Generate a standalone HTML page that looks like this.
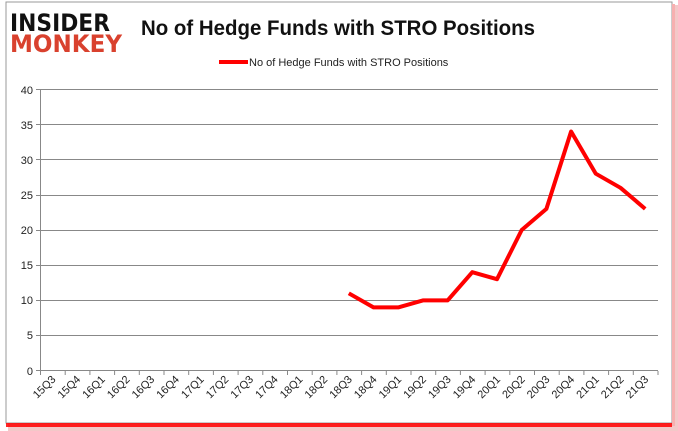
<!DOCTYPE html>
<html><head><style>
body{margin:0;background:#fff;}
svg{display:block;}
</style></head><body>
<svg width="678" height="431" xmlns="http://www.w3.org/2000/svg" font-family="Liberation Sans, sans-serif">
<rect x="8" y="5" width="670" height="426" fill="#f3c8c8"/>
<rect x="6" y="2" width="666" height="421" fill="#fff" stroke="#999" stroke-width="1"/>
<rect x="6" y="423" width="666" height="4" fill="#f00" opacity="0.85"/>
<rect x="672" y="4" width="3" height="422" fill="#f7b0b0"/>
<text x="10" y="31" font-size="24" font-weight="900" fill="#111" textLength="100" lengthAdjust="spacingAndGlyphs" font-family="DejaVu Sans, sans-serif">INSIDER</text>
<text x="10" y="52" font-size="24" font-weight="900" fill="#d9412e" textLength="112" lengthAdjust="spacingAndGlyphs" font-family="DejaVu Sans, sans-serif">MONKEY</text>
<text x="141" y="35" font-size="21" font-weight="bold" fill="#111" textLength="394" lengthAdjust="spacingAndGlyphs">No of Hedge Funds with STRO Positions</text>
<line x1="219" y1="62" x2="248" y2="62" stroke="#f00" stroke-width="4"/>
<text x="249" y="66" font-size="11" fill="#222">No of Hedge Funds with STRO Positions</text>
<g stroke="#888" stroke-width="1">
<line x1="40" y1="89.5" x2="658" y2="89.5"/>
<line x1="40" y1="124.5" x2="658" y2="124.5"/>
<line x1="40" y1="159.5" x2="658" y2="159.5"/>
<line x1="40" y1="195.5" x2="658" y2="195.5"/>
<line x1="40" y1="230.5" x2="658" y2="230.5"/>
<line x1="40" y1="265.5" x2="658" y2="265.5"/>
<line x1="40" y1="300.5" x2="658" y2="300.5"/>
<line x1="40" y1="335.5" x2="658" y2="335.5"/>
<line x1="40" y1="370.5" x2="658" y2="370.5"/>
<line x1="40.5" y1="89" x2="40.5" y2="371"/>
<line x1="36" y1="89.5" x2="40" y2="89.5"/><line x1="36" y1="124.5" x2="40" y2="124.5"/><line x1="36" y1="159.5" x2="40" y2="159.5"/><line x1="36" y1="195.5" x2="40" y2="195.5"/><line x1="36" y1="230.5" x2="40" y2="230.5"/><line x1="36" y1="265.5" x2="40" y2="265.5"/><line x1="36" y1="300.5" x2="40" y2="300.5"/><line x1="36" y1="335.5" x2="40" y2="335.5"/><line x1="36" y1="370.5" x2="40" y2="370.5"/>
</g>
<g stroke="#888" stroke-width="1" id="ticks"></g>
<g font-size="11" fill="#222" text-anchor="end">
<text x="33" y="94">40</text><text x="33" y="129">35</text><text x="33" y="164">30</text><text x="33" y="199">25</text><text x="33" y="234">20</text><text x="33" y="269">15</text><text x="33" y="304">10</text><text x="33" y="339">5</text><text x="33" y="375">0</text>
</g>
<g id="xl" font-size="11" fill="#222" text-anchor="end"></g>
<polyline fill="none" stroke="#f00" stroke-width="4" stroke-linejoin="round" points="348.8,293.3 373.5,307.4 398.2,307.4 422.9,300.4 447.6,300.4 472.3,272.2 497,279.2 521.7,230 546.4,208.9 571.1,131.5 595.8,173.7 620.5,187.8 645.2,208.9"/>
<script>
var t=document.getElementById('ticks'),xl=document.getElementById('xl'),ns='http://www.w3.org/2000/svg';
var labs=['15Q3','15Q4','16Q1','16Q2','16Q3','16Q4','17Q1','17Q2','17Q3','17Q4','18Q1','18Q2','18Q3','18Q4','19Q1','19Q2','19Q3','19Q4','20Q1','20Q2','20Q3','20Q4','21Q1','21Q2','21Q3'];
for(var i=0;i<=25;i++){var x=40.5+24.7*i;var l=document.createElementNS(ns,'line');l.setAttribute('x1',x);l.setAttribute('x2',x);l.setAttribute('y1',371);l.setAttribute('y2',375);t.appendChild(l);}
for(var i=0;i<25;i++){var x=40+24.7*(i+0.5)+4;var y=380;var e=document.createElementNS(ns,'text');e.setAttribute('x',x);e.setAttribute('y',y);e.setAttribute('transform','rotate(-45 '+x+' '+y+')');e.textContent=labs[i];xl.appendChild(e);}
</script>
</svg>
</body></html>
